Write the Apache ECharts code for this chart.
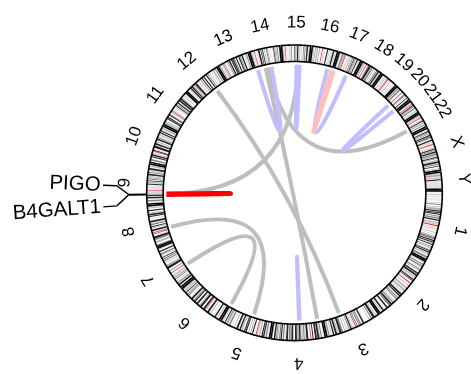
<!DOCTYPE html>
<html>
<head>
<meta charset="utf-8">
<script src="https://cdn.jsdelivr.net/npm/echarts@6/dist/echarts.min.js"></script>
<style>html,body{margin:0;padding:0;background:#fff}#chart{width:471px;height:374px}</style>
</head>
<body>
<div id="chart"></div>
<script>
// ---------------- DATA ----------------
const chromNames = ['1','2','3','4','5','6','7','8','9','10','11','12','13','14','15','16','17','18','19','20','21','22','X','Y'];
const chromLengthMb = [249.25,243.2,198.0,191.15,180.9,171.1,159.1,146.4,141.2,135.5,135.0,133.85,115.2,107.35,102.5,90.35,81.2,78.1,59.1,63.0,48.1,51.3,155.3,59.4];

// cytobands per chromosome: flat triples [startMb, endMb, stain]
// stain: 1 gpos25, 2 gpos50, 3 gpos75, 4 gpos100, 5 acen, 6 gvar, 7 stalk (gneg = white, not listed)
const cytobands = [
 [2.3,5.3,1, 7.1,9.1,1, 12.5,15.9,2, 20.1,23.6,1, 28.0,30.2,1, 32.4,34.6,1, 40.1,44.1,1, 46.8,50.7,3, 56.1,59.0,2, 61.3,68.9,2, 69.7,74.0,4, 76.0,79.5,4, 81.0,84.9,4, 88.4,92.0,3, 94.7,99.7,3, 102.2,107.2,4, 111.8,116.1,2, 117.8,120.7,2, 122.5,126.5,5, 128.9,142.6,6, 147.0,150.3,2, 155.0,156.5,2, 160.8,164.7,2, 165.5,173.8,3, 176.0,180.0,4, 182.0,185.8,4, 186.5,188.5,2, 190.8,193.8,4, 198.7,202.0,3, 204.0,207.2,2, 211.5,214.5,2, 214.5,218.0,4, 220.0,224.1,4, 227.6,231.6,2, 236.6,243.7,3],
 [4.4,7.0,2, 12.0,16.5,3, 19.0,23.9,3, 27.4,29.8,1, 32.9,36.6,3, 38.6,41.6,2, 47.8,52.9,4, 55.0,61.3,4, 64.1,68.6,2, 71.5,73.5,2, 75.0,79.0,4, 80.5,83.3,4, 92.0,95.5,5, 102.7,106.0,2, 112.2,118.8,2, 122.1,129.6,2, 134.5,136.1,3, 141.0,147.9,4, 149.0,154.0,4, 158.9,162.9,3, 164.9,168.9,3, 171.5,173.5,1, 177.7,180.6,2, 183.0,187.4,3, 190.0,197.0,4, 197.0,203.0,3, 209.0,214.5,4, 220.0,222.0,1, 225.0,230.7,4, 234.0,237.0,2],
 [2.8,4.0,2, 8.7,11.8,2, 13.3,16.0,1, 16.0,23.9,4, 26.4,30.9,3, 36.5,39.4,2, 43.7,44.1,1, 54.4,58.6,1, 58.6,63.8,4, 69.7,74.2,3, 75.7,79.8,3, 83.5,87.2,3, 89.0,92.5,5, 93.9,98.3,6, 101.8,103.8,2, 106.2,110.9,4, 113.0,117.0,3, 119.3,120.2,1, 122.9,125.1,2, 130.5,134.0,2, 139.0,144.5,3, 144.5,152.3,4, 155.5,159.3,2, 161.0,167.6,4, 170.9,175.7,4, 180.0,182.7,2, 187.9,192.3,3],
 [4.5,6.0,1, 11.3,15.2,3, 17.8,21.3,2, 21.3,27.7,4, 29.5,35.8,4, 41.2,44.6,4, 49.0,52.0,5, 59.5,66.6,4, 68.5,70.5,2, 72.2,76.3,3, 78.3,82.4,2, 84.3,86.9,3, 87.1,92.0,4, 93.5,97.9,3, 100.1,106.7,4, 113.2,119.9,4, 122.8,129.0,3, 132.0,138.5,4, 140.0,142.0,1, 145.5,150.3,3, 153.5,158.0,4, 159.0,163.5,3, 166.3,169.8,2, 171.0,174.5,3, 176.5,182.0,4, 186.0,188.0,2],
 [4.5,6.3,1, 9.8,15.0,3, 18.4,23.3,4, 24.6,28.9,4, 33.8,38.4,2, 42.5,46.1,2, 46.8,49.8,5, 58.9,63.2,4, 67.4,69.1,3, 74.0,76.9,2, 81.4,82.8,1, 82.8,87.0,4, 88.5,92.3,4, 98.2,102.8,2, 104.5,109.6,4, 111.5,113.1,2, 115.2,121.4,4, 127.3,130.6,2, 136.2,139.5,1, 144.5,149.8,3, 152.7,155.7,2, 156.7,160.5,3, 163.6,167.5,4, 172.0,174.0,2, 176.0,178.0,3],
 [2.3,4.2,1, 7.1,10.6,2, 15.2,16.0,2, 16.0,21.3,4, 25.2,26.0,2, 30.4,32.1,1, 36.6,40.5,2, 45.2,51.6,4, 53.0,57.0,1, 59.5,62.5,5, 63.3,70.0,4, 75.9,83.9,4, 84.9,88.0,2, 93.1,99.5,4, 105.0,109.5,4, 110.5,114.6,3, 118.3,125.1,4, 126.1,127.1,2, 130.3,131.2,1, 135.7,139.0,3, 141.0,145.0,3, 149.1,152.5,4, 155.5,161.0,2, 164.5,168.5,3],
 [2.8,4.5,1, 7.3,13.8,4, 16.5,20.9,3, 25.5,28.0,2, 28.0,28.8,1, 32.4,35.4,3, 37.2,43.3,2, 46.6,49.1,3, 50.5,54.0,1, 58.5,61.5,5, 61.7,64.0,6, 67.0,72.2,2, 77.5,86.4,4, 88.2,91.1,3, 91.1,92.8,2, 98.0,103.8,1, 107.4,111.6,3, 114.6,117.4,4, 121.1,123.8,4, 127.5,129.6,2, 132.6,138.2,3, 143.1,147.9,4, 152.6,155.1,2],
 [2.2,6.2,3, 12.7,19.0,2, 23.3,27.4,3, 28.8,36.5,4, 38.3,39.7,2, 44.0,47.0,5, 48.1,52.2,3, 52.2,52.6,1, 55.5,61.6,4, 66.0,68.1,2, 70.5,73.9,4, 78.5,80.6,4, 80.6,84.6,2, 86.9,93.3,4, 99.0,101.6,1, 106.2,110.5,4, 112.1,117.7,4, 119.2,122.5,2, 127.3,131.5,4, 136.5,139.9,2, 142.0,144.0,1],
 [2.2,4.6,1, 9.0,14.2,3, 16.6,18.5,1, 19.9,25.6,4, 28.0,33.2,4, 36.3,38.4,2, 38.4,41.0,2, 43.0,47.3,1, 47.5,50.5,5, 50.7,65.9,6, 68.7,72.2,4, 74.0,79.2,2, 81.1,84.1,4, 86.9,90.4,3, 91.8,93.9,3, 96.6,99.1,2, 101.6,107.2,4, 110.3,113.9,3, 116.0,119.3,2, 121.1,127.5,4, 130.3,133.5,1, 134.0,136.1,3],
 [6.6,12.2,3, 17.3,18.6,1, 18.6,22.6,4, 24.6,29.6,4, 31.3,34.4,2, 38.8,41.8,5, 42.3,46.1,4, 46.1,49.9,1, 52.9,61.2,4, 64.5,70.6,4, 74.9,77.7,3, 82.0,87.9,4, 89.6,92.9,3, 95.3,97.0,1, 99.3,101.9,2, 103.0,104.9,2, 107.2,111.8,4, 114.9,119.1,4, 121.7,123.1,2, 125.7,128.8,3, 131.5,133.0,1],
 [3.2,10.7,2, 12.7,16.2,2, 21.7,26.1,4, 27.2,31.0,4, 36.4,40.0,4, 41.0,43.5,3, 48.8,51.6,1, 52.0,55.0,5, 55.7,59.9,2, 63.5,65.0,1, 70.5,75.5,1, 77.1,80.0,4, 82.0,85.6,3, 88.3,92.8,4, 97.2,102.9,4, 104.0,110.6,4, 112.7,114.5,3, 121.2,123.9,2, 127.9,130.8,1],
 [3.3,5.4,1, 10.1,12.8,2, 14.8,20.0,4, 21.3,26.5,4, 27.8,30.7,3, 33.3,35.5,2, 35.5,37.8,5, 37.8,44.2,4, 46.4,48.7,1, 52.1,54.5,2, 59.8,64.5,2, 67.7,71.5,4, 75.3,79.9,4, 86.0,90.5,4, 93.3,96.6,3, 101.4,104.0,2, 109.0,111.7,1, 115.1,117.8,3, 118.8,120.9,2, 124.0,127.6,3, 129.8,131.0,1],
 [0.0,4.5,6, 4.5,8.5,7, 10.0,16.3,6, 16.8,19.0,5, 21.7,24.3,3, 27.8,28.9,1, 32.2,34.0,2, 36.4,39.5,3, 41.5,46.7,4, 50.3,54.7,4, 55.3,59.6,4, 60.4,64.3,3, 67.8,72.1,4, 73.3,75.4,1, 77.8,82.0,4, 83.5,86.7,3, 89.4,94.4,4, 97.5,98.7,1, 101.7,104.2,2, 106.4,109.6,3, 112.0,113.5,1],
 [0.0,3.7,6, 3.7,7.0,7, 8.1,14.0,6, 14.5,17.0,5, 19.1,20.6,1, 24.6,26.1,2, 28.8,34.8,4, 37.8,40.5,4, 42.0,43.5,3, 44.0,46.8,4, 50.4,53.3,2, 57.6,61.4,3, 61.4,64.8,2, 67.9,70.2,1, 73.3,74.9,1, 81.1,82.8,3, 83.6,86.0,4, 87.5,89.8,3, 91.5,94.9,2, 96.5,99.8,3, 103.0,104.5,2],
 [0.0,3.0,6, 3.0,6.0,7, 7.0,11.0,6, 11.5,14.0,5, 17.0,19.5,1, 21.0,23.2,1, 27.3,30.5,2, 33.6,36.6,3, 39.8,41.4,1, 44.9,47.1,4, 49.2,52.6,3, 55.0,60.1,4, 60.1,61.4,1, 63.3,66.6,2, 70.6,72.3,2, 76.5,79.5,3, 81.7,85.2,3, 88.5,93.8,4, 96.3,98.5,2],
 [5.0,7.9,2, 10.5,12.6,3, 14.8,16.8,1, 16.8,21.2,2, 24.2,28.1,2, 35.0,38.0,5, 38.6,47.0,6, 52.6,56.7,4, 59.0,63.0,1, 66.0,68.0,2, 70.8,72.9,2, 74.1,79.2,4, 81.7,84.2,2, 87.2,88.7,1],
 [3.3,6.5,2, 10.7,16.0,3, 16.0,22.2,2, 22.5,25.5,5, 31.8,38.1,1, 40.9,44.9,2, 47.4,50.2,2, 50.2,53.0,3, 55.0,57.6,4, 58.3,61.3,3, 62.6,64.2,3, 67.1,70.9,4, 72.9,73.9,1, 75.3,77.2,2],
 [2.9,7.1,2, 8.5,10.9,3, 15.6,18.6,5, 19.0,21.0,1, 23.9,27.5,3, 27.5,35.1,4, 37.2,43.2,3, 46.3,49.2,2, 53.8,56.2,2, 59.0,61.6,4, 63.9,69.1,4, 71.0,75.4,2],
 [6.9,12.6,1, 13.8,16.1,2, 20.0,24.4,2, 25.0,28.0,5, 28.6,32.4,6, 35.5,38.3,2, 43.4,45.2,1, 48.0,51.4,1, 53.6,55.8,2],
 [5.1,9.2,3, 12.1,17.9,3, 22.0,23.5,1, 26.0,29.0,5, 30.5,32.1,1, 36.2,42.1,3, 45.5,47.5,2, 51.5,54.3,4, 57.5,59.3,2],
 [0.0,2.8,6, 2.8,6.0,7, 6.8,10.9,6, 11.0,14.0,5, 14.3,16.4,6, 16.4,20.0,4, 21.0,24.0,3, 26.8,31.5,3, 35.8,37.8,2, 39.7,42.6,2, 45.6,47.0,1],
 [0.0,3.8,6, 3.8,7.0,7, 8.3,12.2,6, 12.5,15.5,5, 22.2,23.5,3, 25.9,29.6,4, 32.2,37.6,2, 41.0,44.6,3, 47.6,49.4,2],
 [4.3,6.0,2, 9.8,13.0,4, 14.5,17.1,3, 19.3,21.9,3, 24.9,29.3,4, 31.5,34.0,4, 35.5,37.6,3, 42.5,47.6,4, 50.1,54.8,1, 56.8,58.1,2, 58.8,61.8,5, 65.4,69.0,1, 71.8,74.6,2, 76.0,80.0,4, 81.5,84.6,3, 86.2,91.8,4, 93.5,98.3,3, 99.1,103.3,2, 105.8,109.4,4, 110.5,113.2,3, 116.5,120.5,2, 122.0,128.5,4, 131.3,134.7,3, 138.0,141.0,4, 146.9,149.8,2, 151.0,153.0,1],
 [3.0,6.6,1, 6.6,10.4,2, 10.6,12.4,5, 12.4,15.1,2, 17.0,18.2,3, 19.5,22.0,2, 24.0,28.8,4, 28.8,59.4,6]
];

// links (drawn in this order)
const linkChrA = ['15','12','14','14','8','7','4','14','15','16','20','16','9'];
const linkMbA  = [60.0, 86.2, 42.0, 51.0, 53.7, 55.0, 88.0, 9.6, 53.8, 71.2, 27.4, 89.0, 33.1];
const linkChrB = ['9','3','4','22','5','5','4','14','15','17','20','17','9'];
const linkMbB  = [35.1, 130.8, 16.9, 32.9, 77.1, 177.8, 90.0, 65.5, 66.4, 54.1, 58.0, 1.0, 35.1];
const linkType = ['gray','gray','gray','gray','gray','gray','blue','blue','blue','blue','blue','pink','red'];

// gene labels
const geneNames = ['PIGO','B4GALT1'];
const geneChr   = ['9','9'];
const geneMb    = [35.1, 33.1];

// ---------------- LAYOUT / STYLE ----------------
const CENTER = [294.5, 192.8];
const R_OUT = 147.8, R_IN = 131.3, R_LINK = 128, R_CHR_LABEL = 170;
const GAP_MB = 6, START_ANGLE = 0.8;
const GENE_LABEL_SHIFT_DEG = [2.8, -3.45];
const R_CONN = [147.8, 166, 178, 191.7], R_GENE_TEXT = 194;
const FONT = 'Liberation Sans, Arial, Helvetica, sans-serif';
const stainColor = {1:'#DADADA', 2:'#B4B4B4', 3:'#858585', 4:'#262626', 5:'#F03C3C', 6:'#E2E2E2', 7:'#8CA6D4'};
const linkStyle = {
  gray: {color:'#BEBEBE', width:4},
  blue: {color:'#BFBFFF', width:4},
  pink: {color:'#FFBFBF', width:4.5},
  red:  {color:'#FF0000', width:5}
};

const chromStart = [];
let acc = 0;
chromLengthMb.forEach((len, i) => { chromStart.push(acc); acc += len + GAP_MB; });
const TOTAL = acc;
const chrIdx = name => chromNames.indexOf(name);
const gpos = (chr, mb) => chromStart[chrIdx(chr)] + mb;

const bandRows = [];
cytobands.forEach((list, ci) => {
  for (let k = 0; k < list.length; k += 3) bandRows.push([ci, list[k], list[k + 1], list[k + 2]]);
});

function arcPoly(api, u0, u1, r0, r1, step) {
  const n = Math.max(1, Math.ceil((u1 - u0) / step));
  const pts = [];
  for (let k = 0; k <= n; k++) pts.push(api.coord([r1, u0 + (u1 - u0) * k / n]));
  for (let k = n; k >= 0; k--) pts.push(api.coord([r0, u0 + (u1 - u0) * k / n]));
  return pts;
}

const chart = echarts.init(document.getElementById('chart'), null, {renderer: 'canvas'});
const dummy = n => Array.from({length: n}, () => [0, 0]);

const option = {
  backgroundColor: '#ffffff',
  animation: false,
  polar: {center: CENTER, radius: R_OUT},
  angleAxis: {type: 'value', min: 0, max: TOTAL, startAngle: START_ANGLE, clockwise: true, show: false},
  radiusAxis: {type: 'value', min: 0, max: R_OUT, show: false},
  series: [
    { // chromosome base
      type: 'custom', coordinateSystem: 'polar', clip: false, silent: true,
      data: dummy(chromNames.length),
      renderItem: (params, api) => {
        const i = params.dataIndex;
        const u0 = chromStart[i], u1 = u0 + chromLengthMb[i];
        return {type: 'polygon', shape: {points: arcPoly(api, u0, u1, R_IN, R_OUT, 2)},
                style: {fill: '#ffffff', stroke: null}};
      }
    },
    { // cytobands
      type: 'custom', coordinateSystem: 'polar', clip: false, silent: true,
      data: dummy(bandRows.length),
      renderItem: (params, api) => {
        const b = bandRows[params.dataIndex];
        const u0 = chromStart[b[0]] + b[1], u1 = chromStart[b[0]] + b[2];
        return {type: 'polygon', shape: {points: arcPoly(api, u0, u1, R_IN, R_OUT, 2)},
                style: {fill: stainColor[b[3]], stroke: null}};
      }
    },
    { // chromosome outlines
      type: 'custom', coordinateSystem: 'polar', clip: false, silent: true,
      data: dummy(chromNames.length),
      renderItem: (params, api) => {
        const i = params.dataIndex;
        const u0 = chromStart[i], u1 = u0 + chromLengthMb[i];
        return {type: 'polygon', shape: {points: arcPoly(api, u0, u1, R_IN, R_OUT, 2)},
                style: {fill: null, stroke: '#000000', lineWidth: 1.6}};
      }
    },
    { // chromosome labels
      type: 'custom', coordinateSystem: 'polar', clip: false, silent: true,
      data: dummy(chromNames.length),
      renderItem: (params, api) => {
        const i = params.dataIndex;
        const u = chromStart[i] + chromLengthMb[i] / 2;
        const p = api.coord([R_CHR_LABEL, u]), c = api.coord([0, 0]);
        const th = Math.atan2(p[1] - c[1], p[0] - c[0]);
        return {type: 'text', x: p[0], y: p[1], rotation: -(th + Math.PI / 2),
                style: {text: chromNames[i], fontSize: 17, fontFamily: FONT, fill: '#000',
                        align: 'center', verticalAlign: 'middle'}};
      }
    },
    { // links
      type: 'custom', coordinateSystem: 'polar', clip: false, silent: true,
      data: dummy(linkType.length),
      renderItem: (params, api) => {
        const i = params.dataIndex;
        const a = api.coord([R_LINK, gpos(linkChrA[i], linkMbA[i])]);
        const b = api.coord([R_LINK, gpos(linkChrB[i], linkMbB[i])]);
        const c = api.coord([0, 0]);
        const st = linkStyle[linkType[i]];
        return {type: 'bezierCurve',
                shape: {x1: a[0], y1: a[1], x2: b[0], y2: b[1], cpx1: c[0], cpy1: c[1]},
                style: {fill: null, stroke: st.color, lineWidth: st.width, lineCap: 'butt'}};
      }
    },
    { // gene labels with connectors
      type: 'custom', coordinateSystem: 'polar', clip: false, silent: true,
      data: dummy(geneNames.length),
      renderItem: (params, api) => {
        const i = params.dataIndex;
        const u = gpos(geneChr[i], geneMb[i]);
        const ul = u + GENE_LABEL_SHIFT_DEG[i] * TOTAL / 360;
        const pts = [api.coord([R_CONN[0], u]), api.coord([R_CONN[1], u]),
                     api.coord([R_CONN[2], ul]), api.coord([R_CONN[3], ul])];
        const t = api.coord([R_GENE_TEXT, ul]), c = api.coord([0, 0]);
        const th = Math.atan2(t[1] - c[1], t[0] - c[0]);
        return {type: 'group', children: [
          {type: 'polyline', shape: {points: pts}, style: {stroke: '#000', lineWidth: 1.4, fill: null}},
          {type: 'text', x: t[0], y: t[1], rotation: Math.PI - th,
           style: {text: geneNames[i], fontSize: 20.5, fontFamily: FONT, fill: '#000',
                   align: 'right', verticalAlign: 'middle'}}
        ]};
      }
    }
  ]
};
chart.setOption(option);
</script>
</body>
</html>
